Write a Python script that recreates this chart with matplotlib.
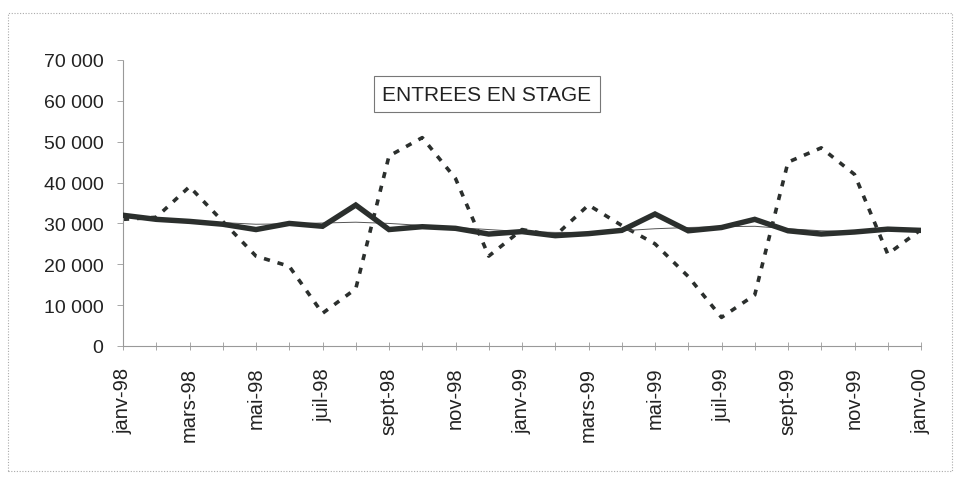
import matplotlib.pyplot as plt
import matplotlib.patches as patches
import numpy as np

months = ['janv-98', 'févr-98', 'mars-98', 'avr-98', 'mai-98', 'juin-98',
          'juil-98', 'août-98', 'sept-98', 'oct-98', 'nov-98', 'déc-98',
          'janv-99', 'févr-99', 'mars-99', 'avr-99', 'mai-99', 'juin-99',
          'juil-99', 'août-99', 'sept-99', 'oct-99', 'nov-99', 'déc-99',
          'janv-00']

# entrees brutes (pointilles)
brut = [31000, 31500, 39000, 30500, 22000, 19500, 8000, 14000, 46500,
        51000, 41000, 22000, 28500, 27000, 34500, 29500, 25000, 17000,
        7000, 12500, 45000, 48500, 42000, 22500, 28500]

# cvs (trait epais)
cvs = [32000, 31000, 30500, 29800, 28500, 30000, 29300, 34500, 28500,
       29200, 28800, 27400, 28000, 27000, 27500, 28300, 32300, 28200,
       29000, 31000, 28200, 27400, 27900, 28600, 28300]

# tendance (trait fin)
tendance = [31500, 31000, 30600, 30200, 29800, 29900, 30100, 30300, 30000,
            29500, 29000, 28500, 28000, 27800, 27800, 28200, 28700, 29000,
            29200, 29300, 28700, 28200, 28000, 28200, 28300]

yticks = [0, 10000, 20000, 30000, 40000, 50000, 60000, 70000]
ytick_labels = ['0', '10 000', '20 000', '30 000', '40 000', '50 000',
                '60 000', '70 000']

plt.rcParams['font.family'] = ['Liberation Sans', 'DejaVu Sans']

fig = plt.figure(figsize=(9.58, 4.81), dpi=100)
ax = fig.add_axes([123/958, 1-347/481, (921-123)/958, (347-61)/481])

x = np.arange(len(months))
dark = '#2b2f2d'
ax.plot(x, brut, color=dark, lw=2.6, linestyle=(0, (1.7, 2.2)), zorder=2)
ax.plot(x, tendance, color='#555555', lw=0.7, zorder=3)
ax.plot(x, cvs, color=dark, lw=3.9, zorder=4, solid_joinstyle='miter')

ax.set_xlim(0, len(months)-1)
ax.set_ylim(0, 70000)
ax.set_yticks(yticks)
ax.set_yticklabels(ytick_labels, fontsize=14, color='#222222')
ax.set_xticks(x)
ax.set_xticklabels([m if i % 2 == 0 else '' for i, m in enumerate(months)],
                   rotation=90, fontsize=14.5, color='#222222')
ax.tick_params(axis='x', direction='inout', length=6, width=0.6,
               colors='#999999', labelcolor='#222222', pad=12)
ax.tick_params(axis='y', direction='out', length=4, width=0.6,
               colors='#999999', labelcolor='#222222', pad=10)

for side in ['top', 'right']:
    ax.spines[side].set_visible(False)
for side in ['left', 'bottom']:
    ax.spines[side].set_color('#999999')
    ax.spines[side].set_linewidth(0.8)
    ax.spines[side].set_linestyle((0, (2, 1)))

ax.text(0.456, 0.88, 'ENTREES EN STAGE', transform=ax.transAxes,
        ha='center', va='center', fontsize=15, color='#222222',
        bbox=dict(boxstyle='square,pad=0.4', fc='white', ec='#777777', lw=0.8))

frame = patches.Rectangle((8/958, 1-472/481), (952-8)/958, (472-14)/481,
                          transform=fig.transFigure, fill=False,
                          ec='#aaaaaa', lw=0.8, linestyle=(0, (1, 1.5)))
fig.patches.append(frame)

fig.savefig('out.png', dpi=100)
